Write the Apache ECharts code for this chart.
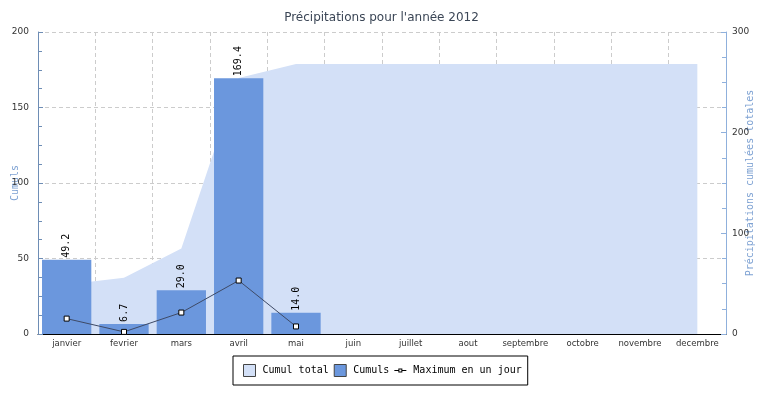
<!DOCTYPE html>
<html><head><meta charset="utf-8">
<script src="https://cdn.jsdelivr.net/npm/echarts@6/dist/echarts.min.js"></script>
<style>html,body{margin:0;padding:0;background:#fff}#c{width:763px;height:393px}</style>
</head><body><div id="c"></div>
<script>
const months = ['janvier','fevrier','mars','avril','mai','juin','juillet','aout','septembre','octobre','novembre','decembre'];
const cumuls = [49.2, 6.7, 29.0, 169.4, 14.0, null, null, null, null, null, null, null];
const cumulTotal = [49.2, 55.9, 84.9, 254.3, 268.3, 268.3, 268.3, 268.3, 268.3, 268.3, 268.3, 268.3];
const maxJour = [10.2, 1.4, 14.2, 35.4, 5.0, null, null, null, null, null, null, null];

const mono = 'DejaVu Sans Mono';
const lineIcon = 'path://M0,0h0.01v0.01h-0.01Z M11.99,11.99h0.01v0.01h-0.01Z ' +
  'M0,5.5H4V6.5H0Z M8,5.5H12V6.5H8Z M4,4H8V8H4Z M5,5V7H7V5Z';
const chart = echarts.init(document.getElementById('c'));
chart.setOption({
  animation: false,
  title: { text: "Précipitations pour l'année 2012", left: 'center', top: 7,
    textStyle: { fontFamily: 'DejaVu Sans', fontSize: 12, fontWeight: 'normal', color: '#3b4656' } },
  grid: { left: 38, right: 37, top: 32, bottom: 59, containLabel: false, outerBoundsMode: 'none' },
  legend: {
    left: 233, top: 356,
    padding: [8, 6, 8, 10], borderColor: '#000', borderWidth: 1, borderRadius: 0,
    itemGap: 5, itemWidth: 12, itemHeight: 12,
    textStyle: { fontFamily: mono, fontSize: 10, color: '#000', padding: [0, 0, 0, 2] },
    data: [
      { name: 'Cumul total', icon: 'rect', itemStyle: { color: '#d3e0f7', borderColor: '#444', borderWidth: 1 } },
      { name: 'Cumuls', icon: 'rect', itemStyle: { color: '#6b97dd', borderColor: '#444', borderWidth: 1 } },
      { name: 'Maximum en un jour', icon: lineIcon, itemStyle: { color: '#000', borderWidth: 0 } }
    ]
  },
  xAxis: {
    type: 'category', data: months, boundaryGap: true,
    axisLine: { lineStyle: { color: '#000', width: 1 } },
    axisTick: { inside: true, length: 5, lineStyle: { color: '#000' } },
    axisLabel: { fontFamily: 'DejaVu Sans', fontSize: 8.5, color: '#333', margin: 5, interval: 0 },
    splitLine: { show: true, lineStyle: { color: '#ccc', type: [4, 3] } }
  },
  yAxis: [
    { type: 'value', min: 0, max: 200, interval: 50, position: 'left',
      name: 'Cumuls', nameLocation: 'middle', nameGap: 18, nameMoveOverlap: false,
      nameTextStyle: { fontFamily: mono, fontSize: 10, color: '#7ea2d3' },
      axisLine: { show: true, lineStyle: { color: '#6e8db5' } },
      axisTick: { show: true, inside: true, length: 5, lineStyle: { color: '#6e8db5' } },
      minorTick: { show: true, splitNumber: 4, length: 4, lineStyle: { color: '#6e8db5' } },
      axisLabel: { fontFamily: 'DejaVu Sans', fontSize: 9, color: '#333', margin: 9 },
      splitLine: { show: true, lineStyle: { color: '#ccc', type: [4, 3] } } },
    { type: 'value', min: 0, max: 300, interval: 100, position: 'right',
      name: 'Précipitations cumulées totales', nameLocation: 'middle', nameGap: 19, nameRotate: 90,
      nameMoveOverlap: false,
      nameTextStyle: { fontFamily: mono, fontSize: 10, color: '#7ea2d3' },
      axisLine: { show: true, lineStyle: { color: '#8fb0dc' } },
      axisTick: { show: true, inside: true, length: 5, lineStyle: { color: '#8fb0dc' } },
      minorTick: { show: true, splitNumber: 4, length: 4, lineStyle: { color: '#8fb0dc' } },
      axisLabel: { fontFamily: 'DejaVu Sans', fontSize: 9, color: '#333', margin: 6 },
      splitLine: { show: false } }
  ],
  series: [
    { name: 'Cumul total', type: 'line', yAxisIndex: 1, data: cumulTotal, z: 1,
      symbol: 'none', lineStyle: { width: 0, color: '#d3e0f7' }, itemStyle: { color: '#d3e0f7' },
      areaStyle: { color: '#d3e0f7', opacity: 1 } },
    { name: 'Cumuls', type: 'bar', yAxisIndex: 0, data: cumuls, z: 2, barCategoryGap: '14%',
      itemStyle: { color: '#6b97dd' },
      label: { show: true, position: 'top', rotate: 90, align: 'left', verticalAlign: 'middle', distance: 2,
        fontFamily: mono, fontSize: 10, color: '#000',
        formatter: p => p.value == null ? '' : Number(p.value).toFixed(1) } },
    { name: 'Maximum en un jour', type: 'line', yAxisIndex: 0, data: maxJour, z: 3,
      symbol: 'rect', symbolSize: 5, showAllSymbol: true,
      lineStyle: { color: '#3e4a66', width: 1 },
      itemStyle: { color: '#fff', borderColor: '#000', borderWidth: 1 } }
  ]
});
</script>
</body></html>
